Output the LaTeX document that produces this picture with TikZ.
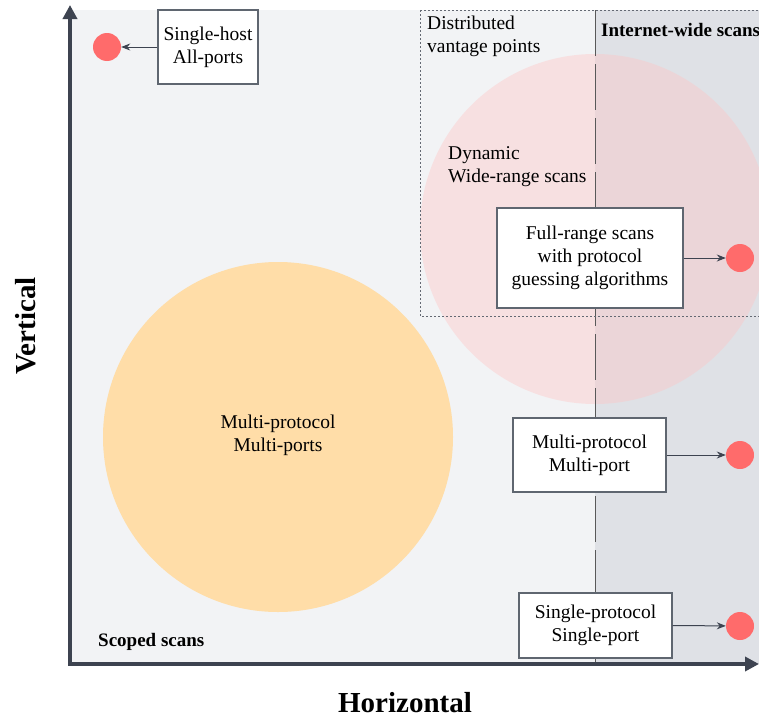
\documentclass[tikz,border=0pt]{standalone}
\usepackage{fontspec}
\setmainfont{Liberation Serif}
\usetikzlibrary{arrows.meta}
\definecolor{bglight}{HTML}{F2F3F5}
\definecolor{bgdark}{HTML}{DFE1E6}
\definecolor{axiscol}{HTML}{3D4350}
\definecolor{boxline}{HTML}{5F6670}
\definecolor{dotred}{HTML}{FF6B6B}
\definecolor{orangefill}{HTML}{FFDDA8}
\definecolor{pinkfill}{HTML}{FFC5C4}
\tikzset{
  labelbox/.style={draw=boxline, line width=1.1pt, fill=white, align=center,
    font=\fontsize{19.5}{23}\selectfont, inner sep=0pt},
  target/.style={circle, fill=dotred, minimum size=28pt, inner sep=0pt},
  pointer/.style={draw=axiscol, line width=1pt, -{Stealth[length=9pt,width=7pt]}},
  axis/.style={draw=axiscol, line width=4pt, -{Triangle[length=14pt,width=14pt]}},
  plain/.style={font=\fontsize{19.5}{23}\selectfont, align=left, inner sep=0pt},
  heading/.style={font=\bfseries\fontsize{19}{21}\selectfont, inner sep=0pt},
}
\begin{document}
\begin{tikzpicture}[x=1pt,y=-1pt]
\useasboundingbox (0,0) rectangle (759,720);
\clip (0,0) rectangle (759,720);

% scan regions
\fill[bglight] (70,10) rectangle (595,664);
\fill[bgdark] (595,10) rectangle (770,664);

% region circles
\fill[orangefill] (278,437) circle (175);
\fill[pinkfill, fill opacity=0.4] (595,229) circle (175);

% boundary between scoped and internet-wide scans
\draw[gray!70!black, line width=0.9pt, dash pattern=on 46pt off 8pt] (595,10) -- (595,664);

% distributed vantage points area
\draw[axiscol!80, line width=1pt, dash pattern=on 1.5pt off 2.5pt] (420,10) -- (420,316) -- (780,316);
\draw[axiscol!80, line width=1pt, dash pattern=on 1.5pt off 2.5pt] (420,10) -- (780,10);

% axes
\coordinate (origin) at (70,664);
\coordinate (ytip) at (70,5);
\coordinate (xtip) at (759,664);
\draw[axis] (origin) -- (ytip);
\draw[axis] ([xshift=-2pt]origin) -- (xtip);

% labels
\node[font=\bfseries\fontsize{29}{31}\selectfont] (hlab) at (405,703) {Horizontal};
\node[font=\bfseries\fontsize{29}{31}\selectfont, rotate=90] (vlab) at (26,326) {Vertical};
\node[heading, anchor=west] (scoped) at (98,642) {Scoped scans};
\node[heading, anchor=west] (inet) at (601,30) {Internet-wide scans};
\node[plain, anchor=north west] (dist) at (427,16) {Distributed\\vantage points};
\node[plain, anchor=north west] (dyn) at (448,146) {Dynamic\\Wide-range scans};
\node[plain, align=center] (multi) at (278,435) {Multi-protocol\\Multi-ports};

% boxes
\node[labelbox, minimum width=100pt, minimum height=74pt] (host) at (208,47) {Single-host\\All-ports};
\node[labelbox, minimum width=186pt, minimum height=100pt] (full) at (590,258) {Full-range scans\\with protocol\\guessing algorithms};
\node[labelbox, minimum width=153pt, minimum height=74pt] (mpmp) at (589.5,455) {Multi-protocol\\Multi-port};
\node[labelbox, minimum width=153pt, minimum height=65pt] (spsp) at (595.5,625.5) {Single-protocol\\Single-port};

% targets
\node[target] (t1) at (107,47) {};
\node[target] (t2) at (740,258) {};
\node[target] (t3) at (740,455) {};
\node[target] (t4) at (740,626) {};

% connectors
\draw[pointer] (host) -- (t1);
\draw[pointer] (full) -- (t2);
\draw[pointer] (mpmp) -- (t3);
\draw[pointer] (spsp.east) -- (t4);
\end{tikzpicture}
\end{document}
